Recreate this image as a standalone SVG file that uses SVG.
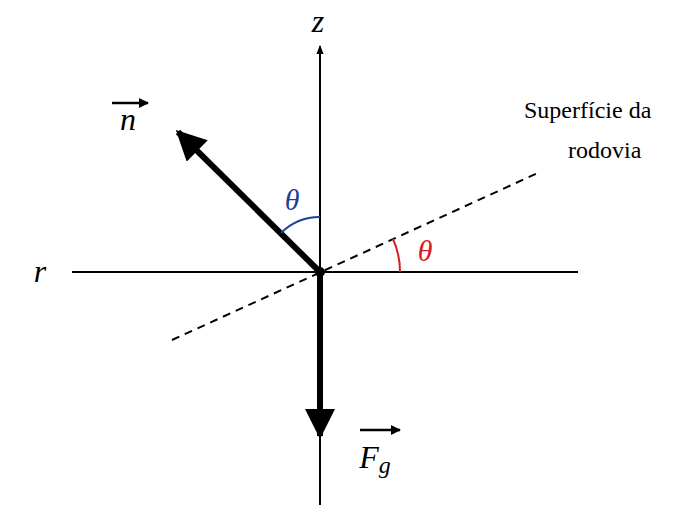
<svg xmlns="http://www.w3.org/2000/svg" width="700" height="528" viewBox="0 0 700 528">
<style>
.t{font-family:"Liberation Serif","DejaVu Serif",serif;fill:#000}
.i{font-style:italic}
</style>
<defs>
<marker id="a" viewBox="0 0 10 10" refX="9" refY="5" markerWidth="10" markerHeight="10" orient="auto" markerUnits="userSpaceOnUse"><path d="M0,0L10,5L0,10z" fill="#000"/></marker>
<marker id="b" viewBox="0 0 10 10" refX="9" refY="5" markerWidth="5" markerHeight="5" orient="auto"><path d="M0,0L10,5L0,10z" fill="#000"/></marker>
<marker id="s" viewBox="0 0 10 10" refX="9" refY="5" markerWidth="10" markerHeight="9" orient="auto" markerUnits="userSpaceOnUse"><path d="M0,1L10,5L0,9z" fill="#000"/></marker>
</defs>
<rect width="700" height="528" fill="#fff"/>
<g id="connectors">
<line x1="320" y1="505" x2="320" y2="46" stroke="#000" stroke-width="2" marker-end="url(#s)"/>
<line x1="72" y1="272" x2="578" y2="272" stroke="#000" stroke-width="2"/>
<line x1="172" y1="340" x2="540" y2="172" stroke="#000" stroke-width="2" stroke-dasharray="8,6"/>
<line x1="320" y1="272" x2="178" y2="132" stroke="#000" stroke-width="6" marker-end="url(#b)"/>
<line x1="320" y1="272" x2="320" y2="436" stroke="#000" stroke-width="6" marker-end="url(#b)"/>
<path d="M320,217 A55,55 0 0 0 281,233" fill="none" stroke="#1f3f9a" stroke-width="2"/>
<path d="M400,272 A80,80 0 0 0 393,239" fill="none" stroke="#d42020" stroke-width="2"/>
<circle cx="320" cy="272" r="5" fill="#000"/>
</g>
<g id="labels">
<text class="t i" x="318" y="32" font-size="32" text-anchor="middle">z</text>
<text class="t i" x="40" y="282" font-size="32" text-anchor="middle">r</text>
<g id="n"><text class="t i" x="128" y="130" font-size="32" text-anchor="middle">n</text>
<line x1="112" y1="103" x2="148" y2="103" stroke="#000" stroke-width="2.5" marker-end="url(#a)"/></g>
<g id="fg"><text class="t i" x="375" y="468" font-size="32" text-anchor="middle">F<tspan font-size="24" dy="5">g</tspan></text>
<line x1="360" y1="430" x2="400" y2="430" stroke="#000" stroke-width="2.5" marker-end="url(#a)"/></g>
<text class="t i" x="292" y="210" font-size="30" text-anchor="middle" style="fill:#1f3f9a">θ</text>
<text class="t i" x="425" y="261" font-size="30" text-anchor="middle" style="fill:#d42020">θ</text>
<text class="t" x="524" y="118" font-size="24">Superfície da</text>
<text class="t" x="568" y="158" font-size="24">rodovia</text>
</g>
</svg>
